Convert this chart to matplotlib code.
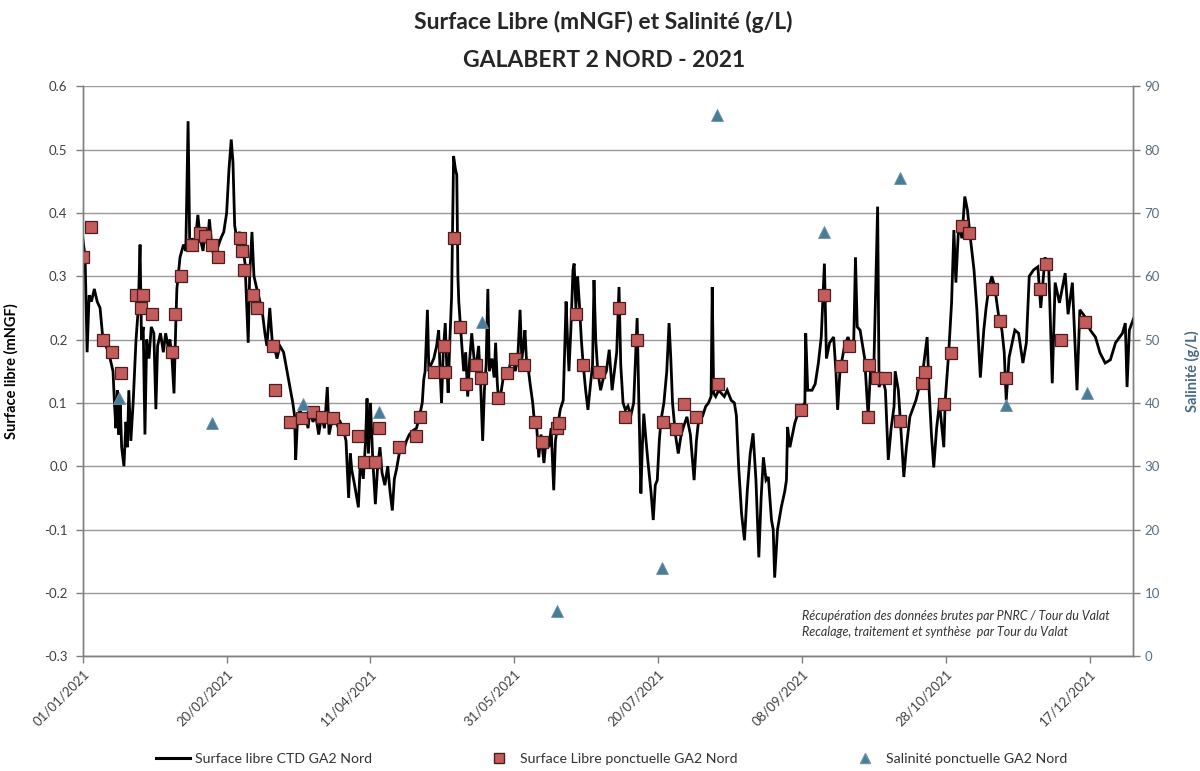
import matplotlib
matplotlib.use("Agg")
import matplotlib.pyplot as plt
import matplotlib.dates as mdates
from matplotlib.lines import Line2D
from datetime import datetime, timedelta
import numpy as np

plt.rcParams['font.family'] = ['Lato', 'DejaVu Sans']

# ---------------- data ----------------
start_date = datetime(2021, 1, 1)

ctd_days = [0, 0.8, 1.5, 2.2, 3, 4, 5, 6, 7, 8, 9, 10, 10.5, 11, 11.5, 12, 12.5, 13, 13.5, 14.3, 15, 15.5, 16, 16.7,
            17.5, 18.5, 19.3, 19.9, 20.4, 21.0, 21.6, 22.2, 23, 23.8, 24.7, 25.4, 26, 27, 28, 28.8, 29.6, 30.3, 31,
            31.7, 32.3, 32.7, 33.8, 35, 35.8, 36.6, 37.2, 38, 39, 40, 40.8, 41.8, 42.5, 43.3, 44, 44.8, 45.6, 46.5,
            47, 48, 49, 50, 50.8, 51.6, 52.2, 52.8, 53.5, 54.5, 55.5, 56.4, 57.5, 58, 58.8, 59.5, 60.5, 61.6, 62.5,
            63.3, 64, 65, 65.8, 66.5, 67.5, 68.5, 69.8, 71, 72, 73, 73.6, 74, 74.6, 75.5, 76.5, 77.5, 78.3, 79, 80,
            81, 82, 83, 84, 85, 85.6, 86.5, 87.5, 88.5, 89.5, 90.5, 91.5, 92.4, 93, 93.5, 94.5, 95.8, 96.5, 97.5,
            98.3, 98.8, 99.3, 100, 100.8, 101.7, 102.5, 103.3, 104, 105, 106, 106.8, 107.6, 108.3, 109, 110, 110.5,
            111.5, 112.5, 113.5, 115, 116, 117, 118, 118.5, 119, 119.8, 120.3, 121, 122, 123, 123.7, 124.2, 124.7,
            125.3, 126, 126.5, 127, 127.6, 128.2, 128.9, 129.5, 130, 130.4, 130.7, 131.3, 132.4, 133.1, 133.8,
            134.5, 135.2, 136, 136.8, 137.6, 138.3, 139, 139.6, 140.2, 140.8, 141.3, 142.2, 143, 143.5, 144.1,
            144.6, 145.5, 146.5, 147.5, 148.5, 149.5, 150.3, 151.2, 152, 152.6, 153.2, 153.7, 154.2, 154.7, 155.5,
            156.4, 157, 157.8, 158.5, 159.3, 160.3, 161, 162, 162.8, 163.7, 164.3, 165, 166, 167, 168, 168.5, 169,
            169.7, 170.4, 170.8, 171.4, 172, 172.6, 173.3, 173.9, 174.8, 175.6, 176.5, 177.2, 177.7, 178.3, 179,
            180, 181, 182, 183, 184, 184.8, 185.6, 186.4, 187, 187.8, 188.6, 189.5, 190.5, 191.5, 192.7, 193.3,
            194, 194.5, 195, 195.8, 196.5, 197.5, 198.3, 199, 199.7, 200.4, 201, 202, 203, 203.8, 204.4, 205, 206,
            207, 208, 208.8, 210, 211.2, 212.5, 213.3, 214.3, 215.5, 216.5, 217.5, 218.4, 218.8, 219.3, 220, 221,
            222, 223, 224, 225.4, 226.5, 227.2, 228, 229, 230, 231, 232, 233, 234, 235, 235.8, 236.6, 237.5, 238.3,
            239.4, 240, 240.5, 241.5, 242.8, 244, 244.6, 245, 245.8, 247.5, 249, 250.2, 251, 251.3, 252, 253.5,
            254.6, 255.7, 256.7, 257.8, 258.5, 259.6, 261, 261.8, 262.4, 263.2, 264.8, 266, 267, 268, 268.6, 269.2,
            270.2, 271.8, 273, 273.8, 275, 276.3, 276.8, 278, 279, 280, 281, 282, 282.4, 283.5, 284.5, 285.4,
            286.3, 287.5, 289.6, 291, 292.3, 293.5, 294.2, 295, 295.8, 296.8, 297.8, 299.3, 299.8, 301, 302, 302.8,
            303.5, 304.5, 305.6, 306.6, 307.5, 308.3, 309.8, 310.8, 312, 313.2, 314, 315, 316, 317, 318.4, 319.5,
            320.3, 321, 322, 324, 325.3, 326.8, 328, 329, 330.5, 332, 333, 334.5, 335.8, 337, 338, 339.5, 341.5,
            342.5, 344, 345.6, 346.6, 348.4, 350.2, 352, 353.6, 355.4, 357.2, 359, 361.4, 362.4, 363, 363.8, 365.5]

ctd_level = [0.36, 0.33, 0.18, 0.27, 0.26, 0.28, 0.26, 0.25, 0.20, 0.19, 0.18, 0.16, 0.15, 0.10, 0.06, 0.12, 0.05,
             0.10, 0.03, 0.00, 0.07, 0.03, 0.12, 0.04, 0.10, 0.20, 0.25, 0.35, 0.20, 0.22, 0.05, 0.20, 0.17, 0.22,
             0.21, 0.09, 0.19, 0.21, 0.18, 0.21, 0.19, 0.20, 0.17, 0.115, 0.22, 0.28, 0.33, 0.35, 0.34, 0.545, 0.34,
             0.36, 0.35, 0.397, 0.36, 0.34, 0.37, 0.35, 0.39, 0.35, 0.33, 0.34, 0.347, 0.36, 0.37, 0.40, 0.468,
             0.516, 0.48, 0.38, 0.36, 0.37, 0.35, 0.32, 0.195, 0.30, 0.37, 0.30, 0.28, 0.26, 0.24, 0.21, 0.19,
             0.25, 0.20, 0.19, 0.17, 0.19, 0.18, 0.15, 0.125, 0.10, 0.08, 0.01, 0.07, 0.09, 0.07, 0.08, 0.06,
             0.09, 0.07, 0.08, 0.05, 0.08, 0.06, 0.125, 0.05, 0.07, 0.08, 0.065, 0.07, 0.06, 0.04, -0.05, 0.02,
             -0.006, -0.03, -0.065, 0.01, -0.02, 0.04, 0.107, 0.02, 0.10, 0.01, -0.06, 0.00, 0.03, -0.01, -0.03,
             0.00, -0.04, -0.07, -0.02, -0.006, 0.02, 0.03, 0.025, 0.04, 0.05, 0.057, 0.06, 0.078, 0.10, 0.136,
             0.15, 0.247, 0.15, 0.16, 0.17, 0.19, 0.215, 0.15, 0.10, 0.18, 0.226, 0.16, 0.116, 0.20, 0.267, 0.49,
             0.47, 0.46, 0.30, 0.26, 0.22, 0.15, 0.18, 0.11, 0.17, 0.21, 0.17, 0.16, 0.19, 0.13, 0.04, 0.12, 0.16,
             0.28, 0.15, 0.17, 0.14, 0.195, 0.13, 0.10, 0.12, 0.15, 0.14, 0.16, 0.178, 0.15, 0.17, 0.247, 0.17,
             0.19, 0.215, 0.17, 0.16, 0.13, 0.10, 0.07, 0.06, 0.014, 0.05, 0.005, 0.04, 0.03, 0.06, -0.038, 0.04,
             0.062, 0.09, 0.104, 0.26, 0.20, 0.15, 0.22, 0.31, 0.32, 0.25, 0.30, 0.258, 0.20, 0.163, 0.12, 0.089,
             0.13, 0.16, 0.294, 0.20, 0.15, 0.12, 0.14, 0.15, 0.184, 0.12, 0.15, 0.18, 0.283, 0.16, 0.10, 0.089,
             0.095, 0.08, 0.10, 0.234, 0.10, -0.043, 0.03, 0.083, 0.04, 0.005, -0.04, -0.085, -0.03, -0.022, 0.04,
             0.073, 0.10, 0.15, 0.226, 0.17, 0.10, 0.05, 0.02, 0.05, 0.062, 0.078, 0.05, -0.022, 0.04, 0.083,
             0.08, 0.094, 0.10, 0.11, 0.283, 0.115, 0.11, 0.12, 0.115, 0.11, 0.12, 0.104, 0.10, 0.08, -0.002,
             -0.075, -0.117, -0.038, 0.02, 0.052, -0.022, -0.144, -0.05, 0.014, -0.022, -0.017, -0.085, -0.10,
             -0.176, -0.10, -0.065, -0.04, -0.022, 0.062, 0.03, 0.068, 0.089, 0.095, 0.10, 0.21, 0.12, 0.12, 0.13,
             0.163, 0.204, 0.32, 0.17, 0.195, 0.204, 0.15, 0.089, 0.15, 0.19, 0.204, 0.19, 0.20, 0.33, 0.22,
             0.215, 0.17, 0.078, 0.15, 0.16, 0.41, 0.125, 0.14, 0.12, 0.01, 0.06, 0.094, 0.15, 0.12, 0.05, -0.017,
             0.03, 0.078, 0.104, 0.13, 0.16, 0.204, 0.12, 0.05, -0.002, 0.06, 0.10, 0.03, 0.104, 0.179, 0.258,
             0.373, 0.29, 0.384, 0.36, 0.426, 0.405, 0.37, 0.31, 0.247, 0.14, 0.215, 0.25, 0.283, 0.30, 0.283,
             0.236, 0.215, 0.18, 0.104, 0.172, 0.215, 0.21, 0.163, 0.195, 0.30, 0.31, 0.315, 0.25, 0.33, 0.31,
             0.131, 0.29, 0.258, 0.305, 0.24, 0.29, 0.12, 0.247, 0.236, 0.215, 0.204, 0.179, 0.163, 0.168, 0.195,
             0.21, 0.226, 0.125, 0.215, 0.236]

pt_days = [0, 2.8, 7.0, 10.1, 13.2, 18.5, 20.2, 20.9, 24.0, 31.0, 32.1, 34.1, 38.0, 40.8, 42.5, 44.9, 47.0, 54.7,
           55.4, 56.1, 59.2, 60.6, 66.2, 66.9, 72.1, 76.3, 80.1, 83.3, 87.1, 90.6, 95.8, 97.6, 101.7, 102.8,
           109.8, 115.7, 117.1, 122, 125.4, 125.8, 128.9, 131, 133.1, 136.6, 138.3, 144.3, 147.4, 150.2, 153.3,
           157.1, 159.6, 164.8, 165.5, 171.4, 173.9, 179.4, 186.4, 188.5, 192.7, 201.7, 206.3, 209.1, 213.2,
           220.9, 249.8, 257.8, 263.4, 266.2, 272.8, 273.2, 276, 278.7, 284, 291.6, 292.7, 299.3, 301.7, 305.6,
           308, 316, 318.8, 320.9, 332.8, 334.8, 340.1, 348.4]
pt_level = [0.33, 0.378, 0.20, 0.18, 0.147, 0.27, 0.25, 0.27, 0.24, 0.18, 0.24, 0.30, 0.35, 0.368, 0.364, 0.35,
            0.33, 0.36, 0.34, 0.31, 0.27, 0.25, 0.19, 0.12, 0.07, 0.076, 0.085, 0.078, 0.076, 0.058, 0.047,
            0.006, 0.006, 0.06, 0.03, 0.047, 0.078, 0.149, 0.19, 0.149, 0.36, 0.22, 0.13, 0.16, 0.14, 0.108,
            0.147, 0.17, 0.16, 0.07, 0.038, 0.06, 0.068, 0.24, 0.16, 0.149, 0.25, 0.078, 0.20, 0.07, 0.058,
            0.098, 0.078, 0.13, 0.089, 0.27, 0.158, 0.19, 0.078, 0.16, 0.139, 0.139, 0.072, 0.131, 0.149, 0.098,
            0.179, 0.38, 0.369, 0.28, 0.23, 0.14, 0.28, 0.32, 0.20, 0.228]

sal_days = [12.5, 45, 76.7, 102.8, 138.7, 165, 201.4, 220.5, 257.5, 284, 321, 349]
sal_values = [40.7, 36.9, 39.9, 38.5, 52.8, 7.1, 13.9, 85.4, 67.0, 75.5, 39.6, 41.5]

tick_step_days = 50

labels = ["Surface libre CTD GA2 Nord", "Surface Libre ponctuelle GA2 Nord", "Salinité ponctuelle GA2 Nord"]


def to_num(days):
    return [mdates.date2num(start_date + timedelta(days=d)) for d in days]


# ---------------- figure ----------------
fig = plt.figure(figsize=(12, 7.71), dpi=100)
ax = fig.add_axes([0.069, 0.149, 0.875, 0.739])
ax2 = ax.twinx()

grey = '#7f7f7f'
text_grey = '#404040'
blue = '#4a7b97'

ax.plot(to_num(ctd_days), ctd_level, color='black', lw=2.0, zorder=3, solid_joinstyle='miter')
ax.plot(to_num(pt_days), pt_level, ls='none', marker='s', ms=8, mfc='#c45c5c', mec='#4a1e1e', mew=0.9, zorder=4)
ax2.plot(to_num(sal_days), sal_values, ls='none', marker='^', ms=8, mfc=blue, mec='#6a94ad', mew=0.6, zorder=5)

x0 = mdates.date2num(start_date)
ax.set_xlim(x0, x0 + 365)
ax.set_ylim(-0.3, 0.6)
ax2.set_ylim(0, 90)
ax.set_yticks(np.arange(-0.3, 0.61, 0.1))
ax.set_yticklabels([f"{v:.1f}" for v in np.arange(-0.3, 0.61, 0.1)])
ax2.set_yticks(np.arange(0, 91, 10))

ax.set_xticks([x0 + d for d in range(0, 351, tick_step_days)])
ax.xaxis.set_major_formatter(mdates.DateFormatter('%d/%m/%Y'))
for lab in ax.get_xticklabels():
    lab.set_rotation(45)
    lab.set_ha('right')
    lab.set_rotation_mode('anchor')

ax.yaxis.grid(True, color='#9a9a9a', lw=1.0)
ax.set_axisbelow(True)
ax.xaxis.grid(False)

for a in (ax, ax2):
    a.spines['top'].set_visible(False)
    for s in ('left', 'right', 'bottom'):
        a.spines[s].set_color(grey)
        a.spines[s].set_linewidth(1.0)
    a.tick_params(axis='both', colors=grey, length=5, width=1.0, labelsize=9.5)

ax.tick_params(axis='y', labelcolor=text_grey, pad=6)
ax.tick_params(axis='x', labelcolor=text_grey, labelsize=9.5)
ax2.tick_params(axis='y', labelcolor='#5a6e80')

ax.set_ylabel("Surface libre (mNGF)", fontsize=10.5, fontweight='bold', color='black')
ax.yaxis.set_label_coords(-0.061, 0.5)
ax2.set_ylabel("Salinité (g/L)", fontsize=10.5, fontweight='bold', color='#4a6a85')
ax2.yaxis.set_label_coords(1.050, 0.5)

fig.text(0.503, 0.972, "Surface Libre (mNGF) et Salinité (g/L)", ha='center', va='center',
         fontsize=16.5, fontweight='bold', color='#262626')
fig.text(0.503, 0.922, "GALABERT 2 NORD - 2021", ha='center', va='center',
         fontsize=16.5, fontweight='bold', color='#262626')

ax.text(0.685, 0.032, "Récupération des données brutes par PNRC / Tour du Valat\n"
        "Recalage, traitement et synthèse  par Tour du Valat",
        transform=ax.transAxes, fontsize=9, style='italic', color='#333333', va='bottom', ha='left',
        linespacing=1.35)

handles = [Line2D([], [], color='black', lw=2.2),
           Line2D([], [], ls='none', marker='s', ms=7, mfc='#c45c5c', mec='#4a1e1e'),
           Line2D([], [], ls='none', marker='^', ms=7, mfc=blue, mec='#6a94ad')]
fig.legend(handles, labels, loc='center', bbox_to_anchor=(0.51, 0.016), ncol=3, frameon=False,
           fontsize=10.2, columnspacing=7.8, handlelength=2.4, handletextpad=0.3, labelcolor='#333333')

fig.savefig("out.png", dpi=100)
